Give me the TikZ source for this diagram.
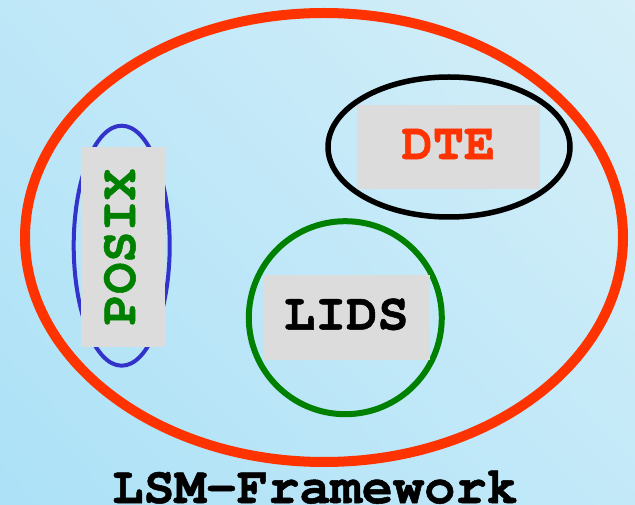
\documentclass[tikz,border=0pt]{standalone}
\usepackage{fontspec}
\usepackage{tikz}
\usetikzlibrary{shapes.geometric, shadings}
\newfontfamily\monobold{texgyrecursor}[Extension=.otf,
  UprightFont=*-regular, BoldFont=*-bold, BoldFeatures={FakeBold=1}]
\definecolor{LsmRed}{HTML}{FF3300}
\definecolor{PosixBlue}{HTML}{3333CC}
\definecolor{LidsGreen}{HTML}{008000}
\definecolor{BoxGray}{HTML}{DCDCDC}
\definecolor{SkyUL}{HTML}{BEE7F8}
\definecolor{SkyUR}{HTML}{D6EFF8}
\definecolor{SkyLL}{HTML}{ACE1F7}
\definecolor{SkyLR}{HTML}{C3E9F8}
\tikzset{
  ring/.style={ellipse, draw=#1, inner sep=0pt, outer sep=0pt},
  tagbox/.style={rectangle, fill=BoxGray, text=#1, inner sep=0pt,
                 text depth=7pt,
                 font=\monobold\bfseries\fontsize{52pt}{52pt}\selectfont},
}

\begin{document}
\begin{tikzpicture}[x=1pt, y=-1pt]
  % background
  \shade[upper left=SkyUL, upper right=SkyUR, lower left=SkyLL, lower right=SkyLR]
    (0,0) rectangle (635,505);
  \useasboundingbox (0,0) rectangle (635,505);

  % rings
  \node[ring=LsmRed, line width=10pt, minimum width=598pt, minimum height=449pt]
    (lsmring) at (324,237.5) {};
  \node[ring=PosixBlue, line width=4pt, minimum width=96pt, minimum height=240pt]
    (posixring) at (121.7,245.7) {};
  \node[ring=black, line width=5.5pt, minimum width=242pt, minimum height=140pt]
    (dtering) at (449,147) {};
  \node[ring=LidsGreen, line width=6pt, minimum width=193pt, minimum height=193pt]
    (lidsring) at (345.3,317.7) {};

  % labels
  \node[tagbox=LidsGreen, rotate=90, minimum width=199pt, minimum height=84pt]
    (posix) at (123,247) {POSIX};
  \node[tagbox=LsmRed, minimum width=183pt, minimum height=84pt]
    (dte) at (448.4,147.5) {DTE};
  \node[tagbox=black, minimum width=167pt, minimum height=84pt]
    (lids) at (346.3,317.5) {LIDS};

  \node[anchor=base, inner sep=0pt, text depth=0pt,
        font=\monobold\bfseries\fontsize{52pt}{52pt}\selectfont]
    (lsmtitle) at (315,503) {LSM-Framework};
\end{tikzpicture}
\end{document}
